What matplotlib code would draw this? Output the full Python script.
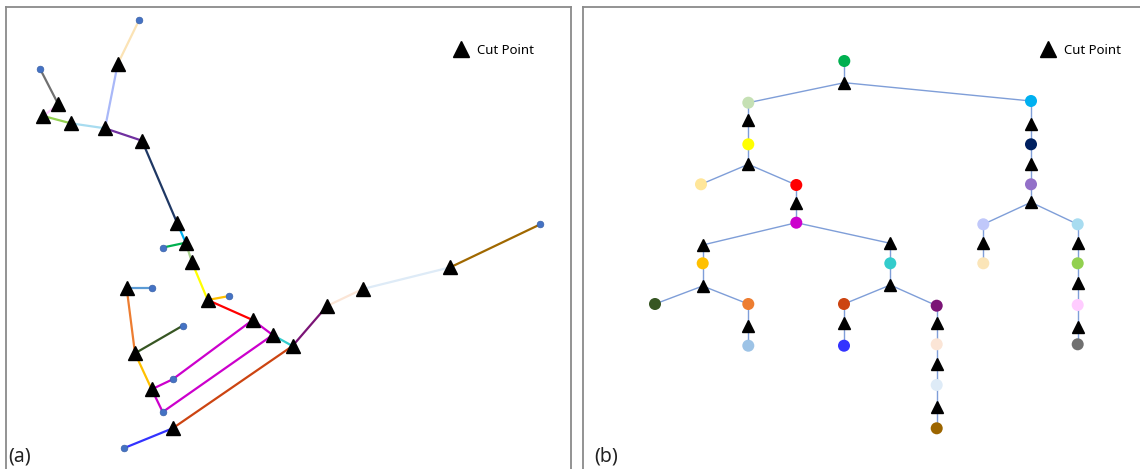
import matplotlib
matplotlib.use("Agg")
import matplotlib.pyplot as plt
from matplotlib.lines import Line2D

plt.rcParams['font.family'] = ['Noto Sans', 'DejaVu Sans']

# ---------------- data: panel (a) ----------------
leaf_names = ["L1", "L2", "L3", "L4", "L5", "L6", "L7", "L8", "L9", "L10"]
leaf_x = [139.0, 40.3, 163.0, 151.5, 229.3, 182.7, 172.7, 162.7, 124.3, 540.3]
leaf_y = [20.3, 69.3, 247.5, 288.3, 296.0, 325.7, 379.3, 412.0, 448.0, 224.3]

cut_names = ["C1", "C2", "C3", "C4", "C5", "C6", "C7", "C8", "C9", "C10",
             "C11", "C12", "C13", "C14", "C15", "C16", "C17", "C18", "C19", "C20"]
cut_x = [117.7, 58.3, 43.3, 70.7, 105.0, 142.0, 177.3, 185.7, 192.0, 126.7,
         207.7, 252.7, 272.7, 135.0, 292.5, 151.7, 172.7, 327.0, 362.7, 450.3]
cut_y = [64.0, 104.3, 116.0, 123.3, 128.3, 140.7, 223.3, 242.7, 262.3, 288.3,
         300.0, 320.0, 335.0, 353.3, 346.0, 389.3, 428.3, 306.0, 289.0, 267.3]

seg_a = [("L1", "C1"), ("C1", "C5"), ("L2", "C2"), ("C2", "C3"), ("C3", "C4"),
         ("C4", "C5"), ("C5", "C6"), ("C6", "C7"), ("C7", "C8"), ("L3", "C8"),
         ("C8", "C9"), ("C9", "C11"), ("C11", "L5"), ("C11", "C12"), ("C12", "C13"),
         ("C12", "L7"), ("L7", "C16"), ("C13", "L8"), ("L8", "C16"),
         ("C14", "C16"), ("C14", "L6"), ("C10", "C14"), ("C10", "L4"),
         ("C13", "C15"), ("C15", "C17"), ("C17", "L9"), ("C15", "C18"),
         ("C18", "C19"), ("C19", "C20"), ("C20", "L10")]
seg_a_colors = ["#FBE3B5", "#A9B8F8", "#707070", "#FFCCFF", "#92D050",
                "#A8DCF0", "#7030A0", "#1F3864", "#00B0F0", "#00B050",
                "#A9D18E", "#FFFF00", "#FFC000", "#FF0000", "#CC00CC",
                "#CC00CC", "#CC00CC", "#CC00CC", "#CC00CC",
                "#FFC000", "#375623", "#ED7D31", "#5B9BD5",
                "#33CCCC", "#CC4411", "#3333FF", "#7B1476",
                "#FBE5D6", "#DEEBF7", "#A06800"]

# ---------------- data: panel (b) ----------------
node_names = ["R%d" % i for i in range(26)]
node_x = [844.3, 748.3, 748.3, 701.0, 796.3, 796.3, 702.7, 655.0, 748.3, 748.3,
          890.3, 844.0, 844.0, 936.7, 936.7, 936.7, 936.7, 1031.0, 1031.0, 1031.0,
          983.3, 983.3, 1077.7, 1077.7, 1077.7, 1077.7]
node_y = [61.0, 102.7, 144.3, 184.3, 185.0, 222.7, 263.3, 304.0, 304.0, 345.7,
          263.3, 304.0, 345.7, 305.7, 344.3, 385.0, 428.3, 101.0, 144.3, 184.3,
          224.3, 263.3, 224.3, 263.3, 305.0, 344.3]
node_colors = ["#00B050", "#C5E0B4", "#FFFF00", "#FFE699", "#FF0000", "#CC00CC",
               "#FFC000", "#375623", "#ED7D31", "#9DC3E6", "#33CCCC", "#CC4411",
               "#3333FF", "#7B1476", "#FBE5D6", "#DEEBF7", "#9C6500", "#00B0F0",
               "#002060", "#9370C8", "#C0C8FA", "#FBE5B8", "#A8DCF0", "#92D050",
               "#FFCCFF", "#707070"]

tri_names = ["T%d" % i for i in range(20)]
tri_x = [844.3, 748.3, 748.3, 796.3, 702.7, 702.7, 748.3, 890.3, 890.3, 844.0,
         936.7, 936.7, 936.7, 1031.0, 1031.0, 1031.0, 983.3, 1077.7, 1077.7, 1077.7]
tri_y = [82.7, 120.0, 164.3, 202.7, 245.0, 286.0, 325.7, 243.3, 285.0, 323.3,
         322.7, 364.3, 406.7, 124.3, 164.3, 202.3, 243.3, 243.3, 283.3, 326.7]

edges_b = [("R0", "T0"), ("T0", "R1"), ("T0", "R17"), ("R1", "T1"), ("T1", "R2"),
           ("R2", "T2"), ("T2", "R3"), ("T2", "R4"), ("R4", "T3"), ("T3", "R5"),
           ("R5", "T4"), ("R5", "T7"), ("T4", "R6"), ("R6", "T5"), ("T5", "R7"),
           ("T5", "R8"), ("R8", "T6"), ("T6", "R9"), ("T7", "R10"), ("R10", "T8"),
           ("T8", "R11"), ("T8", "R13"), ("R11", "T9"), ("T9", "R12"), ("R13", "T10"),
           ("T10", "R14"), ("R14", "T11"), ("T11", "R15"), ("R15", "T12"), ("T12", "R16"),
           ("R17", "T13"), ("T13", "R18"), ("R18", "T14"), ("T14", "R19"), ("R19", "T15"),
           ("T15", "R20"), ("T15", "R22"), ("R20", "T16"), ("T16", "R21"), ("R22", "T17"),
           ("T17", "R23"), ("R23", "T18"), ("T18", "R24"), ("R24", "T19"), ("T19", "R25")]

legend_label = "Cut Point"
panel_labels = ["(a)", "(b)"]

# ---------------- figure ----------------
W, H = 1140, 469
fig = plt.figure(figsize=(W / 100, H / 100), dpi=100)


def make_axes(x0, x1, y0, y1):
    ax = fig.add_axes([x0 / W, (H - y1) / H, (x1 - x0) / W, (y1 - y0) / H])
    ax.set_xlim(x0, x1)
    ax.set_ylim(y1, y0)
    ax.set_xticks([])
    ax.set_yticks([])
    for s in ax.spines.values():
        s.set_color("#8a8a8a")
        s.set_linewidth(1.3)
    return ax


axA = make_axes(5.5, 571, 7, 485)
axB = make_axes(583, 1160, 7, 485)

# panel (a)
posA = {n: (x, y) for n, x, y in zip(leaf_names, leaf_x, leaf_y)}
posA.update({n: (x, y) for n, x, y in zip(cut_names, cut_x, cut_y)})
for (a, b), c in zip(seg_a, seg_a_colors):
    axA.plot([posA[a][0], posA[b][0]], [posA[a][1], posA[b][1]],
             color=c, lw=1.6, solid_capstyle="round", zorder=2)
axA.plot(leaf_x, leaf_y, 'o', color="#4472C4", ms=4.8, mec="#3A62A8", mew=0.5,
         ls="none", zorder=3)
axA.plot(cut_x, cut_y, '^', color="black", ms=10.5, ls="none", zorder=4)

# panel (b)
posB = {n: (x, y) for n, x, y in zip(node_names, node_x, node_y)}
posB.update({n: (x, y) for n, x, y in zip(tri_names, tri_x, tri_y)})
for a, b in edges_b:
    axB.plot([posB[a][0], posB[b][0]], [posB[a][1], posB[b][1]],
             color="#7F9ED8", lw=1.0, zorder=2)
axB.scatter(node_x, node_y, s=75, c=node_colors, edgecolors="none", zorder=3)
axB.plot(tri_x, tri_y, '^', color="black", ms=8, ls="none", zorder=4)

handle = Line2D([], [], marker='^', color='black', ls='none', ms=11)
for ax, ax_anchor, lab, lx in [(axA, 453.0, panel_labels[0], 8.5),
                               (axB, 1040.5, panel_labels[1], 594.5)]:
    ax.legend([handle], [legend_label], loc="center left",
              bbox_to_anchor=(ax_anchor, 50.5), bbox_transform=ax.transData,
              frameon=False, borderpad=0, borderaxespad=0, handlelength=1.2,
              handletextpad=0.6, fontsize=9.5, numpoints=1)
    ax.text(lx, 456, lab, fontsize=14, ha="left", va="center", color="#222222")

fig.savefig("out.png", dpi=100)
